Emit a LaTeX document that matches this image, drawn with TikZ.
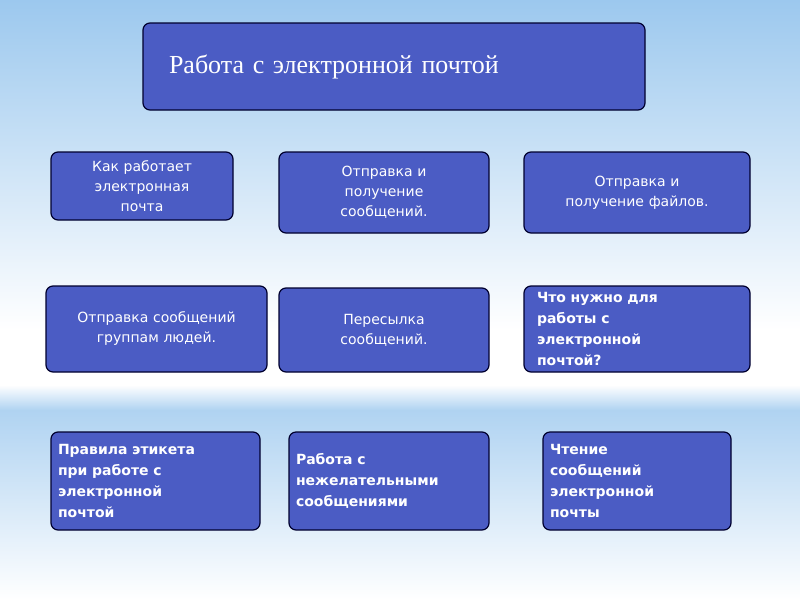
\documentclass[tikz,border=0pt]{standalone}
\usepackage{fontspec}
\setmainfont{DejaVu Sans}
\newfontfamily\titlefont{Liberation Serif}
\begin{document}
\begin{tikzpicture}[x=1pt,y=-1pt,
  box/.style={draw=black!70!blue!60!black, line width=1.2pt, fill=boxblue, rounded corners=7pt, text=white, inner sep=3pt},
  nfont/.style={font=\fontsize{14}{20}\selectfont, align=center},
  bfont/.style={font=\bfseries\fontsize{14}{21}\selectfont, align=left}]
\definecolor{boxblue}{HTML}{4B5CC4}
\definecolor{bgblue}{HTML}{9CC8EE}
\useasboundingbox (0,0) rectangle (800,600);
\shade[top color=bgblue, bottom color=white] (0,0) rectangle (800,330);
\fill[white] (0,330) rectangle (800,385);
\shade[top color=white, bottom color=bgblue!80] (0,385) rectangle (800,410);
\shade[top color=bgblue!80, bottom color=white] (0,410) rectangle (800,600);
\node[box, minimum width=502, minimum height=87, font=\titlefont\fontsize{26}{30}\selectfont, text width=450, align=left] (t) at (394,66.5) {Работа с электронной почтой};
\node[box, nfont, minimum width=182, minimum height=68, text width=150] (a) at (142,186) {Как работает\\электронная\\почта};
\node[box, nfont, minimum width=210, minimum height=81, text width=190] (b) at (384,192.5) {Отправка и\\получение\\сообщений.};
\node[box, nfont, minimum width=226, minimum height=81, text width=210] (c) at (637,192.5) {Отправка и\\получение файлов.};
\node[box, nfont, minimum width=221, minimum height=86, text width=215] (d) at (156.5,329) {Отправка сообщений\\группам людей.};
\node[box, nfont, minimum width=210, minimum height=84, text width=190] (e) at (384,330) {Пересылка\\сообщений.};
\node[box, bfont, minimum width=226, minimum height=86, text width=200] (f) at (637,329) {Что нужно для\\работы с\\электронной\\почтой?};
\node[box, bfont, minimum width=209, minimum height=98, text width=195] (g) at (155.5,481) {Правила этикета\\при работе с\\электронной\\почтой};
\node[box, bfont, minimum width=200, minimum height=98, text width=186] (h) at (389,481) {Работа с\\нежелательными\\сообщениями};
\node[box, bfont, minimum width=188, minimum height=98, text width=174] (i) at (637,481) {Чтение\\сообщений\\электронной\\почты};
\end{tikzpicture}
\end{document}
